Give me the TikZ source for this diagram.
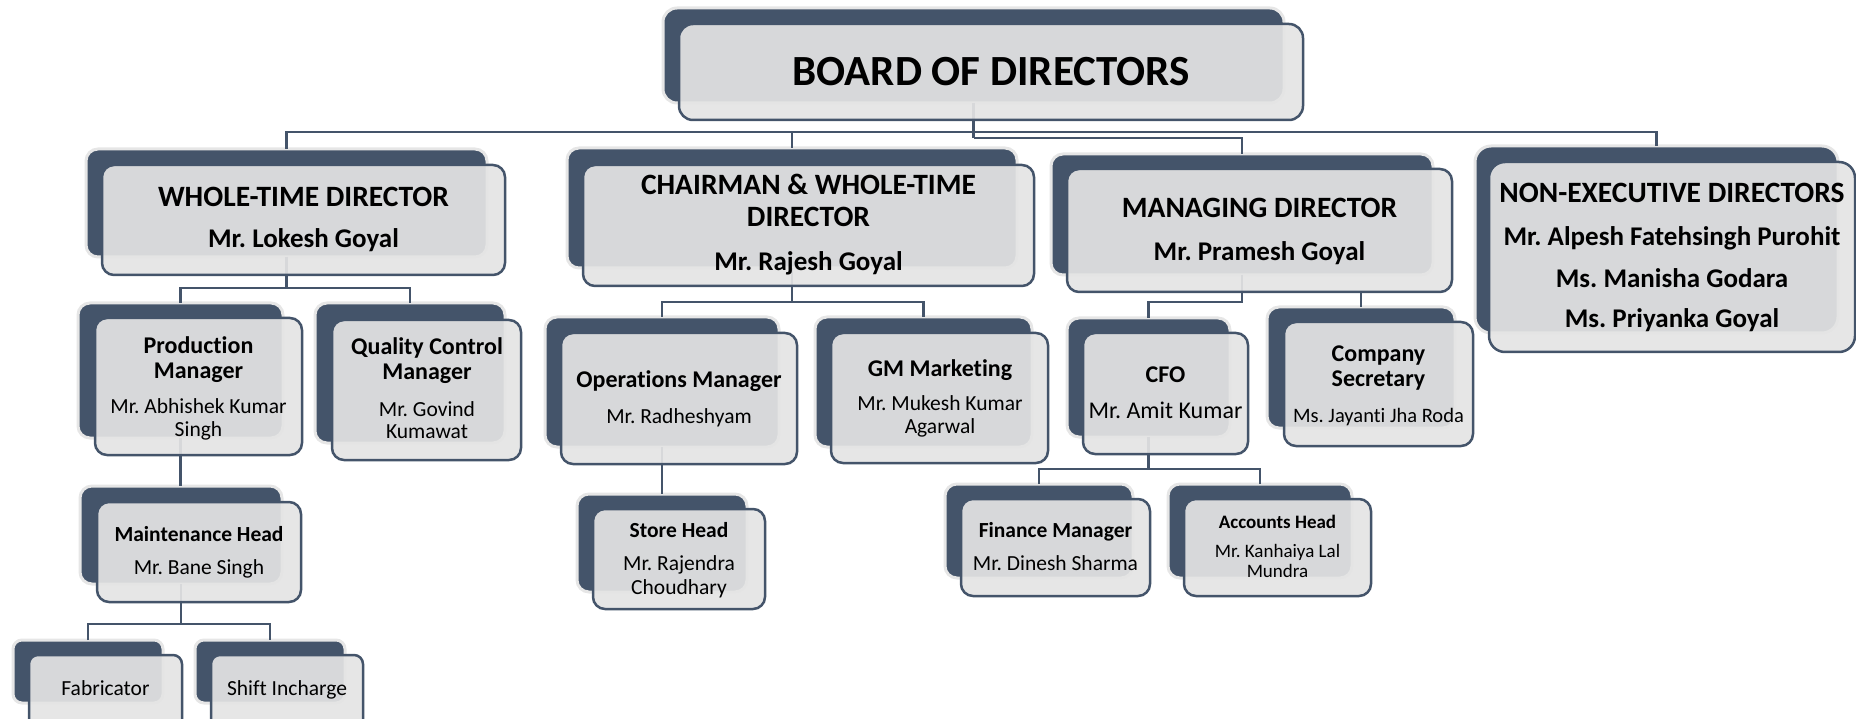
\documentclass[tikz,border=0pt]{standalone}
\usepackage{fontspec}
\setmainfont{Carlito}[Ligatures={NoCommon,NoContextual}]
\usetikzlibrary{fit}
\definecolor{navy}{RGB}{68,84,106}
\definecolor{pale}{RGB}{228,228,228}
\definecolor{halo}{RGB}{230,230,230}
\newcommand\fsz[1]{\fontsize{#1}{#1}\selectfont}
\frenchspacing
\tikzset{
  backbox/.style={fill=navy, draw=halo, line width=3pt, rounded corners=12pt, inner sep=0pt, outer sep=0pt},
  frontbox/.style={fill=pale, fill opacity=0.92, draw=navy, draw opacity=1, line width=2.5pt, rounded corners=12pt, inner sep=0pt, outer sep=0pt},
  link/.style={draw=navy, line width=2.3pt},
  txt/.style={anchor=base, inner sep=0pt, text=black},
  tA/.style={txt, font={\bfseries\fsz{29.5}}},
  nA/.style={txt, font={\bfseries\fsz{27}}},
  tB/.style={txt, font={\bfseries\fsz{24}}},
  nB/.style={txt, font={\fsz{21.5}}},
  tC/.style={txt, font={\bfseries\fsz{21.5}}},
}
\begin{document}
\begin{tikzpicture}[x=1pt,y=-1pt]
\useasboundingbox (0,0) rectangle (1856,719);
\clip (0,0) rectangle (1856,719);

% ---------- back (dark) boxes ----------
\node[backbox, rounded corners=14pt, fit={(663,8) (1284,103)}] (bodB) {};
\node[backbox, fit={(86,149) (487,257)}] (wtdB) {};
\node[backbox, fit={(567,148) (1017,268)}] (chB) {};
\node[backbox, fit={(1051,154) (1433,275)}] (mdB) {};
\node[backbox, rounded corners=16pt, fit={(1475,146) (1838,333)}] (nedB) {};
\node[backbox, fit={(78,303) (283,438)}] (pmB) {};
\node[backbox, fit={(315,303) (505,443)}] (qcB) {};
\node[backbox, fit={(545,317) (779,447)}] (omB) {};
\node[backbox, fit={(815,317) (1032,447)}] (gmB) {};
\node[backbox, fit={(1067,318) (1230,437)}] (cfoB) {};
\node[backbox, fit={(1267,307) (1455,428)}] (csB) {};
\node[backbox, fit={(80,486) (282,584)}] (mhB) {};
\node[backbox, fit={(577,494) (747,592)}] (stB) {};
\node[backbox, fit={(945,484) (1133,578)}] (fmB) {};
\node[backbox, fit={(1168,484) (1352,578)}] (ahB) {};
\node[backbox, rounded corners=9pt, fit={(13,640) (163,703)}] (fabB) {};
\node[backbox, rounded corners=9pt, fit={(195,640) (345,703)}] (sfB) {};

% ---------- connectors ----------
\coordinate (busA) at (0,132);
\coordinate (busB) at (0,138);
\coordinate (busC) at (0,288);
\coordinate (busD) at (0,624);
\coordinate (busE) at (0,302);
\coordinate (busF) at (0,469);

\draw[link] (bodB.south) -- (bodB.south |- busB);
\draw[link] (wtdB.north) |- (nedB.north |- busA) -- (nedB.north);
\draw[link] (chB.north) -- (chB.north |- busA);
\draw[link] (bodB.south |- busB) -| (mdB.north);

\draw[link] (wtdB.south) -- (wtdB.south |- busC);
\draw[link] (pmB.north) |- (qcB.north |- busC) -- (qcB.north);
\draw[link] (pmB.south) -- (pmB.south |- mhB.north);
\draw[link] (mhB.south) -- (mhB.south |- busD);
\draw[link] (fabB.north) |- (sfB.north |- busD) -- (sfB.north);

\draw[link] (chB.south) -- (chB.south |- busE);
\draw[link] (omB.north) |- (gmB.north |- busE) -- (gmB.north);
\draw[link] (omB.south) -- (omB.south |- stB.north);

\draw[link] (mdB.south) -- (mdB.south |- busE) -| (cfoB.north);
\draw[link] (cfoB.south) -- (cfoB.south |- busF);
\draw[link] (fmB.north) |- (ahB.north |- busF) -- (ahB.north);

% ---------- front boxes ----------
\node[frontbox, rounded corners=14pt, fit={(679,24) (1303,120)}] (bod) {};
\node[frontbox, fit={(102,165) (505,275)}] (wtd) {};
\node[frontbox, fit={(583,165) (1034,286)}] (ch) {};
\node[frontbox, fit={(1067,169) (1452,292)}] (md) {};
\node[frontbox, rounded corners=16pt, fit={(1489,162) (1855,352)}] (ned) {};
\node[frontbox, fit={(95,318) (302,455)}] (pm) {};
\node[frontbox, fit={(332,320) (521,460)}] (qc) {};
\node[frontbox, fit={(561,333) (797,464)}] (om) {};
\node[frontbox, fit={(831,333) (1048,463)}] (gm) {};
\node[frontbox, fit={(1083,333) (1248,454)}] (cfo) {};
\node[frontbox, fit={(1284,322) (1473,446)}] (cs) {};
\node[frontbox, fit={(97,502) (301,602)}] (mh) {};
\node[frontbox, fit={(593,509) (765,609)}] (st) {};
\node[frontbox, fit={(961,499) (1150,596)}] (fm) {};
\node[frontbox, fit={(1184,499) (1371,596)}] (ah) {};
\node[frontbox, rounded corners=9pt, fit={(29,655) (182,735)}] (fab) {};
\node[frontbox, rounded corners=9pt, fit={(211,655) (363,735)}] (sf) {};

\draw[link] (csB.north |- md.south) -- (csB.north);

% ---------- texts ----------
\node[txt, font={\bfseries\fsz{43}}] (bodT) at (991,86) {BOARD OF DIRECTORS};

\node[tA] (wtdT1) at (303.5,207) {WHOLE-TIME DIRECTOR};
\node[nA] (wtdT2) at (303.5,248) {Mr. Lokesh Goyal};

\node[tA] (chT1) at (808.5,195) {CHAIRMAN \& WHOLE-TIME};
\node[tA] (chT2) at (808.5,227) {DIRECTOR};
\node[nA] (chT3) at (808.5,271) {Mr. Rajesh Goyal};

\node[tA] (mdT1) at (1259.5,218) {MANAGING DIRECTOR};
\node[nA] (mdT2) at (1259.5,261) {Mr. Pramesh Goyal};

\node[tA] (nedT1) at (1672,203) {NON-EXECUTIVE DIRECTORS};
\node[nA] (nedT2) at (1672,246) {Mr. Alpesh Fatehsingh Purohit};
\node[nA] (nedT3) at (1672,288) {Ms. Manisha Godara};
\node[nA] (nedT4) at (1672,328) {Ms. Priyanka Goyal};

\node[tB] (pmT1) at (198.5,353) {Production};
\node[tB] (pmT2) at (198.5,378) {Manager};
\node[nB] (pmT3) at (198.5,413) {Mr. Abhishek Kumar};
\node[nB] (pmT4) at (198.5,436) {Singh};

\node[tB] (qcT1) at (427,355) {Quality Control};
\node[tB] (qcT2) at (427,380) {Manager};
\node[nB] (qcT3) at (427,416) {Mr. Govind};
\node[nB] (qcT4) at (427,438) {Kumawat};

\node[tB] (omT1) at (679,388) {Operations Manager};
\node[nB] (omT2) at (679,423) {Mr. Radheshyam};

\node[tB] (gmT1) at (940,377) {GM Marketing};
\node[nB] (gmT2) at (940,410) {Mr. Mukesh Kumar};
\node[nB] (gmT3) at (940,433) {Agarwal};

\node[tB] (cfoT1) at (1165.5,382) {CFO};
\node[txt, font={\fsz{24}}] (cfoT2) at (1165.5,418) {Mr. Amit Kumar};

\node[tB] (csT1) at (1378.5,362) {Company};
\node[tB] (csT2) at (1378.5,387) {Secretary};
\node[txt, font={\fsz{20.5}}] (csT3) at (1378.5,422) {Ms. Jayanti Jha Roda};

\node[tC] (mhT1) at (199,541) {Maintenance Head};
\node[nB] (mhT2) at (199,574) {Mr. Bane Singh};

\node[tC] (stT1) at (679,537) {Store Head};
\node[nB] (stT2) at (679,570) {Mr. Rajendra};
\node[nB] (stT3) at (679,594) {Choudhary};

\node[tC] (fmT1) at (1055.5,537) {Finance Manager};
\node[nB] (fmT2) at (1055.5,570) {Mr. Dinesh Sharma};

\node[txt, font={\bfseries\fsz{19}}] (ahT1) at (1277.5,528) {Accounts Head};
\node[txt, font={\fsz{19}}] (ahT2) at (1277.5,557) {Mr. Kanhaiya Lal};
\node[txt, font={\fsz{19}}] (ahT3) at (1277.5,577) {Mundra};

\node[nB] (fabT) at (105.5,695) {Fabricator};
\node[nB] (sfT) at (287,695) {Shift Incharge};
\end{tikzpicture}
\end{document}
